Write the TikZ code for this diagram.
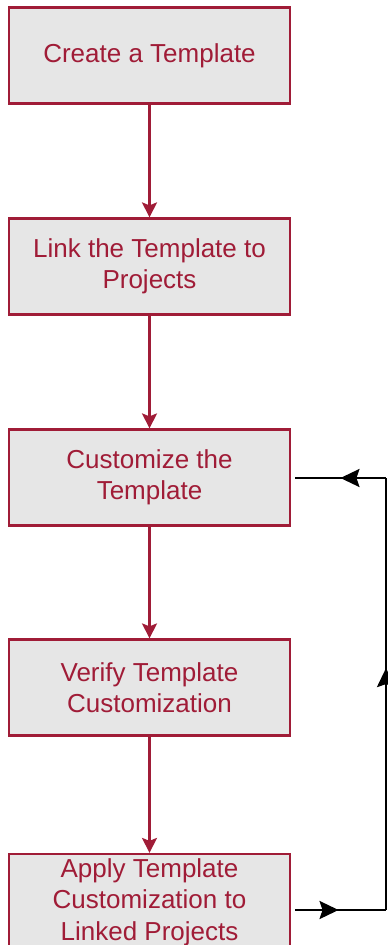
\documentclass[tikz,border=0pt]{standalone}
\usepackage{fontspec}
\setmainfont{Liberation Sans}
\usetikzlibrary{positioning,calc,arrows.meta,decorations.markings}

\definecolor{boxred}{RGB}{160,28,55}
\definecolor{boxfill}{RGB}{230,230,230}

\begin{document}
\begin{tikzpicture}[x=1pt, y=1pt, line cap=butt, line join=miter,
	stepbox/.style={draw=boxred, line width=2.2pt, fill=boxfill, minimum width=281pt, minimum height=96pt,
		inner sep=0pt, align=center, text=boxred, font=\fontsize{26}{31.5}\selectfont},
	flow/.style={draw=boxred, line width=2.2pt, -{Stealth[length=15pt,width=15pt,inset=3pt]}},
	loopback/.style={draw=black, line width=2.4pt, postaction={decorate},
		decoration={markings, mark=at position #1 with {\arrow{Stealth[length=19pt,width=18pt,inset=3pt]}}}}]
	% page
	\useasboundingbox (0,0) rectangle (388,-945);
	% steps
	\node[stepbox] (create) at (149.5,-55.5) {Create a Template};
	\node[stepbox] (link) at (149.5,-266.5) {Link the Template to\\Projects};
	\node[stepbox] (custom) at (149.5,-477.5) {Customize the\\Template};
	\node[stepbox] (verify) at (149.5,-687.5) {Verify Template\\Customization};
	\node[stepbox] (apply) at (149.5,-902) {Apply Template\\Customization to\\Linked Projects};
	% main flow
	\draw[flow] (create) -- (link);
	\draw[flow] (link) -- (custom);
	\draw[flow] (custom) -- (verify);
	\draw[flow] (verify) -- (apply);
	% loop back
	\coordinate (lowturn) at (386,-910);
	\coordinate (highturn) at (386,-478);
	\draw[loopback=0.5, shorten <=4pt] (apply.east |- lowturn) -- (lowturn);
	\draw[loopback=0.56] (lowturn) -- (highturn);
	\draw[loopback=0.48, shorten >=4pt] (highturn) -- (custom.east |- highturn);
\end{tikzpicture}
\end{document}
